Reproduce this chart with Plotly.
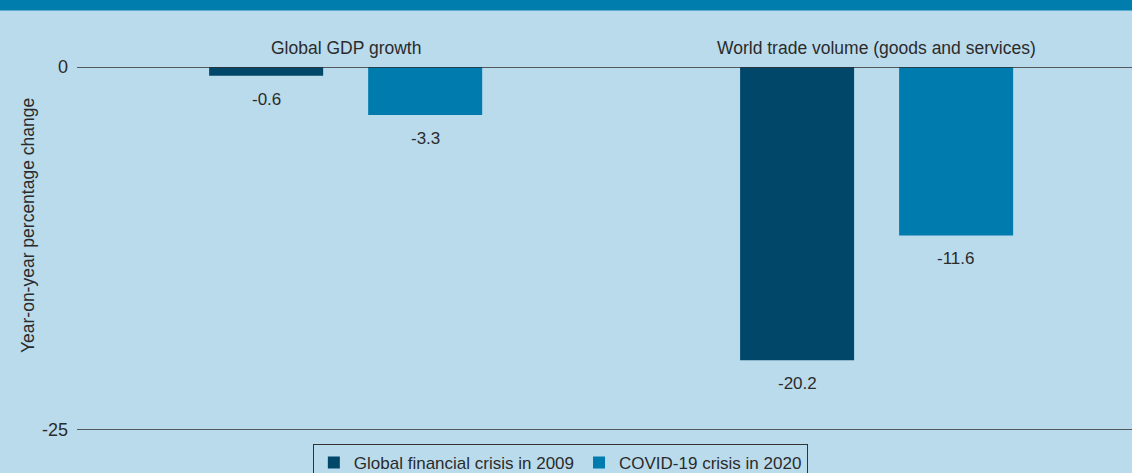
import plotly.graph_objects as go

categories = ["Global GDP growth", "World trade volume (goods and services)"]
series_names = ["Global financial crisis in 2009", "COVID-19 crisis in 2020"]
gfc_2009 = [-0.6, -20.2]
covid_2020 = [-3.3, -11.6]
y_ticks = [0, -25]
y_tick_labels = ["0", "-25"]

dark = "#00476a"
light = "#007bad"
bg = "#badbec"
txt = "#2b2b2b"
font_family = "Liberation Sans, Arial, sans-serif"

fig = go.Figure()
fig.add_trace(go.Bar(x=categories, y=gfc_2009, name=series_names[0],
                     marker=dict(color=dark, line=dict(width=0))))
fig.add_trace(go.Bar(x=categories, y=covid_2020, name=series_names[1],
                     marker=dict(color=light, line=dict(width=0))))

annotations = []
for vals, shift in ((gfc_2009, -79.5), (covid_2020, 79.5)):
    for c, v in zip(categories, vals):
        annotations.append(dict(x=c, y=v, xref="x", yref="y", text=f"{v:.1f}",
                                showarrow=False, xshift=shift, yanchor="top", yshift=-12,
                                font=dict(size=17, color=txt, family=font_family)))
for c in categories:
    annotations.append(dict(x=c, y=1, xref="x", yref="paper", text=c, showarrow=False,
                            yanchor="bottom", yshift=7,
                            font=dict(size=17.5, color=txt, family=font_family)))
annotations.append(dict(x=-0.0464, y=0.562, xref="paper", yref="paper",
                        text="Year-on-year percentage change", showarrow=False,
                        textangle=-90, xanchor="center", yanchor="middle",
                        font=dict(size=17.5, color=txt, family=font_family)))

shapes = []
for t in y_ticks:
    shapes.append(dict(type="line", xref="paper", yref="y", x0=0, x1=1, y0=t, y1=t,
                       line=dict(color="#2e2e2e", width=1.5), layer="above"))
# top band
shapes.append(dict(type="rect", xref="paper", yref="paper", x0=-0.2, x1=1.2, y0=1.1556, y1=1.3,
                   fillcolor="#007cad", line=dict(width=0), layer="above"))

fig.update_layout(
    width=1132, height=473,
    margin=dict(l=77, r=0, t=67, b=43),
    paper_bgcolor=bg, plot_bgcolor=bg,
    barmode="group", bargap=0.401, bargroupgap=0.283,
    font=dict(family=font_family, color=txt, size=17),
    showlegend=True,
    legend=dict(orientation="h", xref="container", yref="container", x=0.495, y=1 - 444 / 473,
                xanchor="center", yanchor="top", bgcolor="rgba(0,0,0,0)",
                bordercolor="#333333", borderwidth=1,
                font=dict(size=17, color=txt, family=font_family)),
    xaxis=dict(range=[-0.506, 1.481], showticklabels=False, showgrid=False, zeroline=False,
               showline=False, fixedrange=True),
    yaxis=dict(range=[-25, 0], tickvals=y_ticks, ticktext=y_tick_labels, showgrid=False,
               zeroline=False, showline=False, ticks="", ticklabelstandoff=8,
               tickfont=dict(size=18, color=txt)),
    annotations=annotations,
    shapes=shapes,
)

fig.write_html("out.html", config={"displayModeBar": False},
               post_script="document.body.style.margin='0';document.body.style.overflow='hidden';")
